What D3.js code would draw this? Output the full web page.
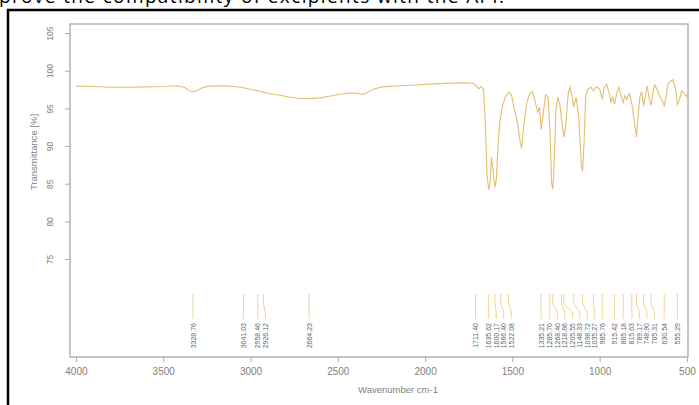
<!DOCTYPE html>
<html>
  <head>
    <meta charset="utf-8">
    <title>IR spectrum</title>
    <script src="https://d3js.org/d3.v7.min.js"></script>
    <style>
      body { margin: 0; background: #fff; }
      svg { display: block; font-family: "Liberation Sans", Arial, sans-serif; }
      .axis text { fill: #808080; }
      .axis path, .axis line { stroke: #aaa; }
    </style>
  </head>
  <body>
    <svg width="699" height="405"></svg>
    <script>
      // spectrum points: wavenumber (cm-1) and transmittance (%)
      var wavenumber = [4000, 3900, 3800, 3700, 3600, 3500, 3420, 3380, 3350, 3330, 3310, 3280, 3240, 3150, 3050,
        3000, 2950, 2900, 2850, 2780, 2720, 2660, 2600, 2550, 2480, 2430, 2390, 2360, 2340, 2300, 2250, 2150,
        2050, 1950, 1850, 1760, 1720, 1700, 1690, 1680, 1665, 1655, 1645, 1635, 1628, 1620, 1612, 1600, 1592,
        1580, 1570, 1555, 1540, 1520, 1505, 1490, 1470, 1455, 1447, 1440, 1420, 1400, 1385, 1370, 1355, 1345,
        1335, 1325, 1310, 1295, 1285, 1275, 1268, 1260, 1250, 1240, 1228, 1218, 1205, 1195, 1180, 1170, 1160,
        1148, 1135, 1120, 1105, 1098, 1090, 1080, 1070, 1050, 1035, 1020, 1000, 985, 975, 960, 945, 935, 925,
        915, 900, 890, 875, 865, 855, 845, 830, 815, 800, 789, 780, 770, 760, 748, 738, 728, 718, 705, 695,
        685, 670, 660, 645, 630, 620, 610, 595, 580, 565, 555, 545, 530, 515, 500, 495];
      var transmittance = [97.95, 97.9, 97.8, 97.8, 97.85, 97.9, 98.0, 97.8, 97.35, 97.2, 97.3, 97.7, 97.95, 98.0, 97.8,
        97.5, 97.3, 97.0, 96.8, 96.5, 96.35, 96.3, 96.4, 96.6, 96.9, 97.05, 97.0, 96.85, 97.0, 97.5, 97.85, 98.0,
        98.1, 98.25, 98.35, 98.4, 98.3, 97.8, 97.6, 97.9, 97.5, 93.0, 86.0, 84.2, 85.0, 88.5, 87.0, 84.5, 85.5,
        91.0, 93.5, 95.5, 96.5, 97.2, 96.8, 95.0, 93.0, 90.5, 89.7, 91.5, 95.5, 97.0, 97.2, 96.0, 94.5, 95.2,
        92.2, 94.0, 96.8, 96.5, 92.0, 85.0, 84.3, 88.0, 95.0, 96.5, 95.5, 93.5, 91.2, 92.5, 97.0, 97.8, 96.8,
        95.2, 96.5, 94.0, 87.5, 86.6, 90.0, 96.5, 97.5, 97.8, 97.3, 97.9, 97.6, 96.2, 97.7, 98.2, 97.0, 95.8, 96.5,
        95.6, 97.2, 97.8, 96.5, 95.8, 96.7, 96.2, 97.0, 95.5, 93.0, 91.2, 94.0, 96.5, 97.2, 95.3, 96.8, 98.0, 96.5, 95.4, 97.2,
        98.1, 97.5, 96.8, 96.2, 95.3, 96.5, 98.2, 98.6, 98.8, 97.5, 95.5, 96.0, 97.3, 97.0, 96.5, 97.2];

      // labelled peaks
      var peaks = [3328.76, 3041.03, 2958.46, 2926.12, 2664.23, 1711.40, 1635.62, 1600.17, 1566.40, 1522.08,
        1335.21, 1285.70, 1268.40, 1218.66, 1205.55, 1148.33, 1098.72, 1035.27, 985.76, 915.42, 865.18,
        815.63, 789.17, 748.90, 705.31, 630.54, 555.29];

      var xTicks = [4000, 3500, 3000, 2500, 2000, 1500, 1000, 500];
      var yTicks = [75, 80, 85, 90, 95, 100, 105];

      var svg = d3.select("svg");
      var plotLeft = 70, plotRight = 688, plotTop = 24, plotBottom = 357;

      var x = d3.scaleLinear().domain([4034, 494]).range([plotLeft, plotRight]);
      var y = d3.scaleLinear().domain([62, 106.2]).range([plotBottom, plotTop]);

      // text cut off at the top of the screenshot
      svg.append("text")
          .attr("x", -1)
          .attr("y", 3)
          .attr("textLength", 505)
          .style("font-family", "'Open Sans', sans-serif")
          .style("font-size", "19px")
          .style("fill", "#000")
          .text("prove the compatibility of excipients with the API.");

      // outer black border
      svg.append("rect")
          .attr("x", 8).attr("y", 10)
          .attr("width", 720).attr("height", 420)
          .attr("fill", "#fff")
          .attr("stroke", "#000")
          .attr("stroke-width", 2.5);

      // plot frame
      svg.append("rect")
          .attr("x", plotLeft).attr("y", plotTop)
          .attr("width", plotRight - plotLeft).attr("height", plotBottom - plotTop)
          .attr("fill", "none")
          .attr("stroke", "#b8b8b8")
          .attr("stroke-width", 1.6);

      var xAxis = svg.append("g")
          .attr("class", "axis")
          .attr("transform", "translate(0," + plotBottom + ")")
          .call(d3.axisBottom(x).tickValues(xTicks).tickFormat(d3.format("d")).tickSize(5).tickPadding(6));
      xAxis.select(".domain").remove();
      xAxis.selectAll("text").style("font-size", "10px");

      var yAxis = svg.append("g")
          .attr("class", "axis")
          .attr("transform", "translate(" + plotLeft + ",0)")
          .call(d3.axisLeft(y).tickValues(yTicks).tickSize(5));
      yAxis.select(".domain").remove();
      yAxis.selectAll("text")
          .style("font-size", "8.5px")
          .attr("x", null)
          .attr("text-anchor", "middle")
          .attr("transform", "translate(" + (50 - plotLeft) + ",0) rotate(-90)")
          .attr("dy", "0.35em");

      svg.append("text")
          .attr("transform", "translate(34,152) rotate(-90)")
          .attr("text-anchor", "middle")
          .attr("dy", "0.35em")
          .style("font-size", "9.5px")
          .style("fill", "#808080")
          .text("Transmittance [%]");

      svg.append("text")
          .attr("x", 398).attr("y", 393)
          .attr("text-anchor", "middle")
          .style("font-size", "9.5px")
          .style("fill", "#808080")
          .text("Wavenumber cm-1");

      // spectrum
      var pts = wavenumber.map(function(w, i) { return [w, transmittance[i]]; });
      svg.append("path")
          .datum(pts)
          .attr("fill", "none")
          .attr("stroke", "#e4be70")
          .attr("stroke-width", 1.1)
          .attr("d", d3.line()
              .x(function(d) { return x(d[0]); })
              .y(function(d) { return y(d[1]); }));

      // peak labels with simple spacing so they do not overlap
      var gap = 7.5;
      var lab = peaks.map(function(p) { return {p: p, px: x(p), lx: x(p)}; })
          .sort(function(a, b) { return a.px - b.px; });
      for (var i = 1; i < lab.length; i++) {
        if (lab[i].lx - lab[i - 1].lx < gap) lab[i].lx = lab[i - 1].lx + gap;
      }
      for (var j = lab.length - 1; j >= 0; j--) {
        var lim = j === lab.length - 1 ? plotRight - 4 : lab[j + 1].lx - gap;
        if (lab[j].lx > lim) lab[j].lx = lim;
      }

      var pk = svg.append("g");
      pk.selectAll("path")
          .data(lab)
          .enter().append("path")
          .attr("fill", "none")
          .attr("stroke", "#eed592")
          .attr("stroke-width", 1)
          .attr("d", function(d) {
            return "M" + d.px + ",294V304L" + d.lx + ",312V319";
          });
      pk.selectAll("text")
          .data(lab)
          .enter().append("text")
          .attr("transform", function(d) { return "translate(" + d.lx + ",323) rotate(-90)"; })
          .attr("text-anchor", "end")
          .attr("dy", "0.35em")
          .style("font-size", "7px")
          .style("fill", "#666")
          .text(function(d) { return d.p.toFixed(2); });
    </script>
  </body>
</html>
